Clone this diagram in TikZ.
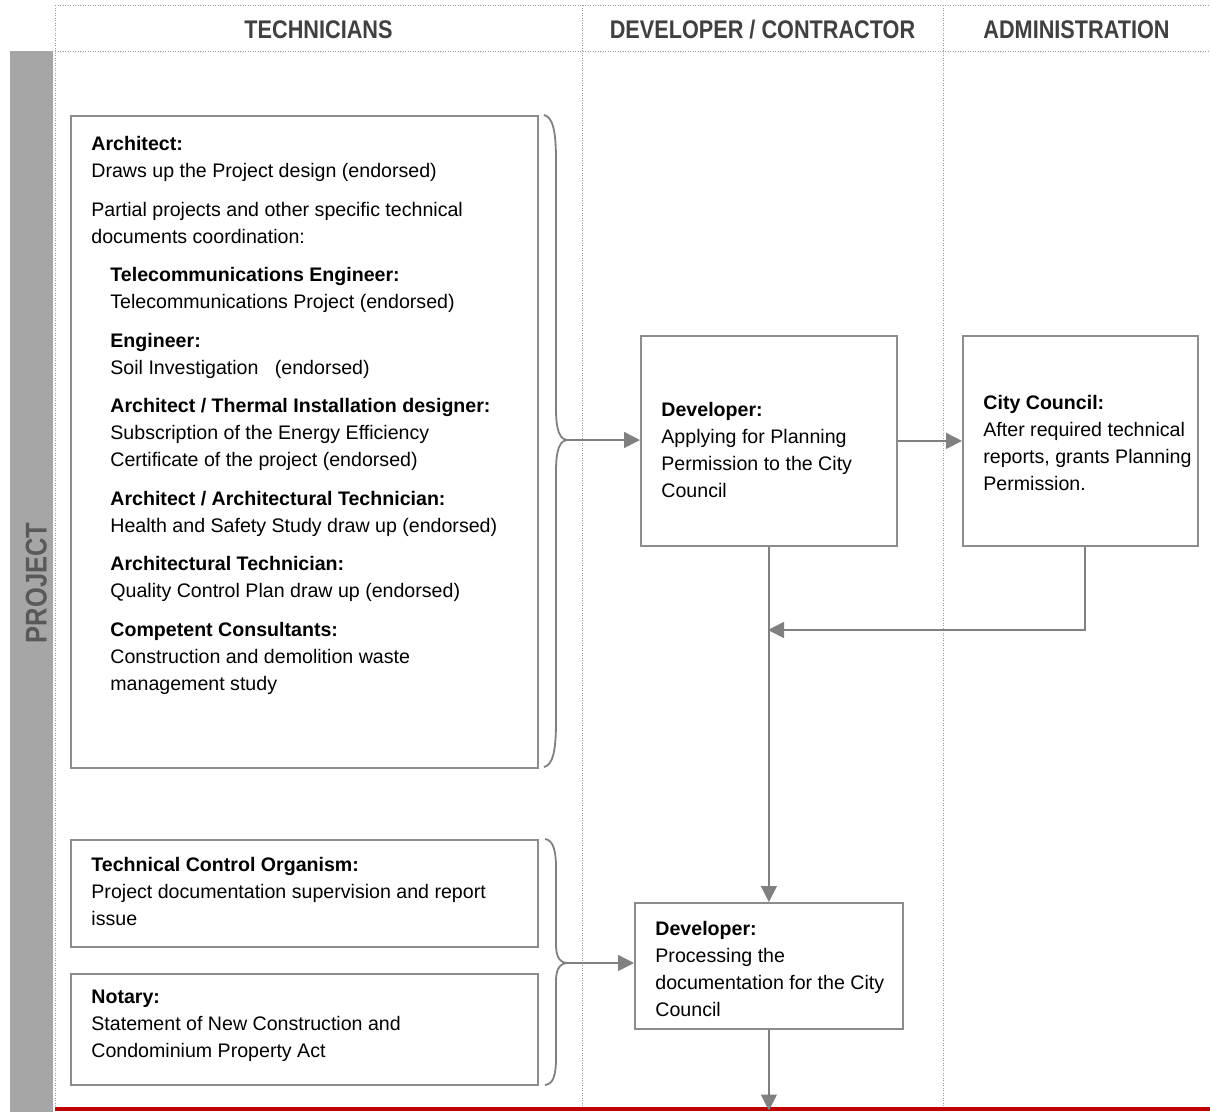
\documentclass[tikz,border=0pt]{standalone}
\usepackage{fontspec}
\setmainfont{Liberation Sans}
\newfontfamily\headfont[FakeStretch=0.85]{Liberation Sans}
\usepackage{tikz}
\usetikzlibrary{arrows.meta}
\definecolor{linegray}{HTML}{808080}
\definecolor{boxgray}{HTML}{8C8C8C}
\definecolor{dotgray}{HTML}{9A9A9A}
\definecolor{bargray}{HTML}{A6A6A6}
\definecolor{headgray}{HTML}{404040}
\definecolor{projgray}{HTML}{595959}
\definecolor{stopred}{HTML}{C00000}
\newcommand{\txtsize}{\fontsize{19.6}{27}\selectfont}
\newcommand{\hdsize}{\headfont\bfseries\fontsize{25.5}{30}\selectfont}
\newcommand{\indt}{\hspace*{19pt}}

\begin{document}
\begin{tikzpicture}[x=1pt, y=-1pt, thick,
		lane/.style={draw=dotgray, line width=1pt, dash pattern=on 1.2pt off 1.3pt},
		conn/.style={draw=linegray, line width=1.5pt, -{Triangle[length=16pt, width=16pt]}},
		curly/.style={draw=linegray, line width=1.8pt},
		tbox/.style={rectangle, draw=boxgray, line width=1.8pt, inner sep=0pt, anchor=north west}]
		\useasboundingbox (0,0) rectangle (1210,1112);
		\fill[bargray] (10,51) rectangle (53,1112);
		\draw[lane] (55,5) -- (1210,5);
		\draw[lane] (55,51) -- (1210,51);
		\draw[lane] (55,5) -- (55,1112);
		\draw[lane] (582,5) -- (582,1112);
		\draw[lane] (943,5) -- (943,1112);
		\begin{scope}[every node/.style={anchor=base, inner sep=0pt, text=headgray, font=\hdsize}]
			\node (htech) at(318.5, 38.5) {TECHNICIANS};
			\node (hdev) at(762.5, 38.5) {DEVELOPER / CONTRACTOR};
			\node (hadm) at(1076.5, 38.5) {ADMINISTRATION};
			\node[rotate=90, text=projgray, font=\headfont\bfseries\fontsize{30}{36}\selectfont] (hproj) at(46.5, 583) {PROJECT};
		\end{scope}
		\begin{scope}[every node/.style={tbox}]
			\node[minimum width=467pt, minimum height=652pt] (arch) at(70, 115) {};
			\node[minimum width=467pt, minimum height=107pt] (tco) at(70, 839) {};
			\node[minimum width=467pt, minimum height=111pt] (notary) at(70, 973) {};
			\node[minimum width=256pt, minimum height=210pt] (dev1) at(640, 335) {};
			\node[minimum width=235pt, minimum height=210pt] (cc) at(962, 335) {};
			\node[minimum width=268pt, minimum height=126pt] (dev2) at(634, 902) {};
		\end{scope}
		\begin{scope}[every node/.style={anchor=north west, inner sep=0pt, align=left, font=\txtsize}]
			\node (archtxt) at(91, 136) {\textbf{Architect:}\\
				Draws up the Project design (endorsed)\\[11.5pt]
				Partial projects and other specific technical\\
				documents coordination:\\[11.5pt]
				\indt\textbf{Telecommunications Engineer:}\\
				\indt Telecommunications Project (endorsed)\\[11.5pt]
				\indt\textbf{Engineer:}\\
				\indt Soil Investigation\ \ \ (endorsed)\\[11.5pt]
				\indt\textbf{Architect / Thermal Installation designer:}\\
				\indt Subscription of the Energy Efficiency\\
				\indt Certificate of the project (endorsed)\\[11.5pt]
				\indt\textbf{Architect / Architectural Technician:}\\
				\indt Health and Safety Study draw up (endorsed)\\[11.5pt]
				\indt\textbf{Architectural Technician:}\\
				\indt Quality Control Plan draw up (endorsed)\\[11.5pt]
				\indt\textbf{Competent Consultants:}\\
				\indt Construction and demolition waste\\
				\indt management study};
			\node (tcotxt) at(91, 857) {\textbf{Technical Control Organism:}\\
				Project documentation supervision and report\\
				issue};
			\node (notarytxt) at(91, 990) {\textbf{Notary:}\\
				Statement of New Construction and\\
				Condominium Property Act};
			\node (dev1txt) at(661, 402) {\textbf{Developer:}\\
				Applying for Planning\\
				Permission to the City\\
				Council};
			\node (cctxt) at(983, 395) {\textbf{City Council:}\\
				After required technical\\
				reports, grants Planning\\
				Permission.};
			\node (dev2txt) at(655, 921) {\textbf{Developer:}\\
				Processing the\\
				documentation for the City\\
				Council};
		\end{scope}
		\coordinate (tipa) at(568, 440);
		\coordinate (tipb) at(568, 963);
		\coordinate (join) at(768, 630);
		\coordinate (redl) at(55, 1108.5);
		\coordinate (redr) at(1210, 1108.5);
		\draw[curly] (544,115) .. controls (552,117) and (556,128) .. (556,160) -- (556,409)
			.. controls (556,431) and (560,440) .. (tipa)
			.. controls (560,440) and (556,449) .. (556,471) -- (556,722)
			.. controls (556,754) and (552,765) .. (544,767);
		\draw[curly] (545,839) .. controls (553,840) and (556,850) .. (556,868) -- (556,945)
			.. controls (556,957) and (560,963) .. (tipb)
			.. controls (560,963) and (556,969) .. (556,981) -- (556,1058)
			.. controls (556,1076) and (553,1084) .. (545,1085);
		\draw[stopred, line width=4pt] (redl) -- (redr);
		\begin{scope}[every path/.style={conn}]
			\draw (tipa) -- (tipa -| dev1.west);
			\draw (dev1.east) -- (dev1.east -| cc.west);
			\draw ([xshift=4.5pt]cc.south) |- (join);
			\draw (dev1.south) -- (dev2.north);
			\draw (tipb) -- (tipb -| dev2.west);
			\draw (dev2.south) -- ([yshift=-2pt]dev2.south |- redl);
		\end{scope}
	\end{tikzpicture}
\end{document}
